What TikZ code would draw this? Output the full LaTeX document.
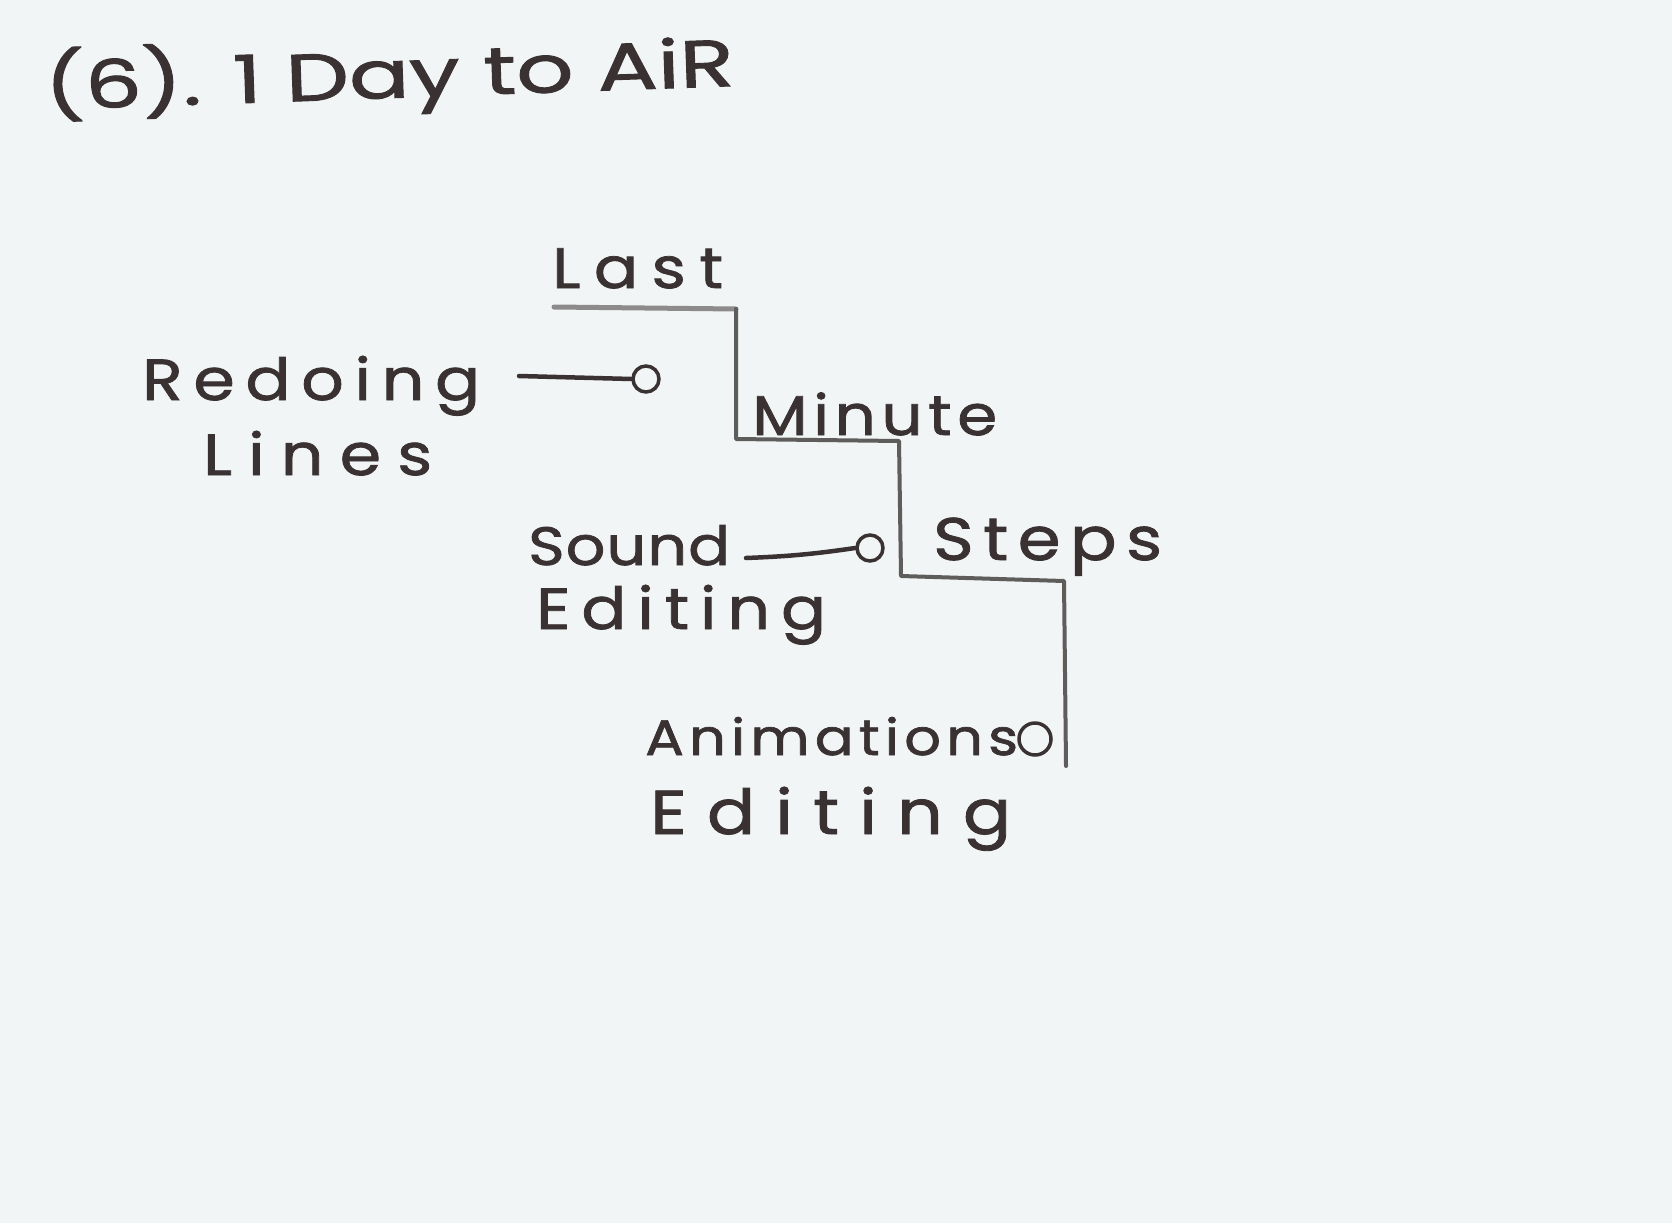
\documentclass[tikz,border=0pt]{standalone}
\usepackage{fontspec}
\usepackage{graphicx}
\setmainfont{Poppins}[FakeStretch=1.15, FakeBold=1.4]
\definecolor{paper}{RGB}{242,245,245}
\definecolor{ink}{RGB}{58,50,50}
\definecolor{pencil}{RGB}{95,92,92}
\definecolor{lightpencil}{RGB}{140,138,138}
% a title line set to a given width and height above its baseline
\newcommand\hwword[3]{\resizebox{#1pt}{#2pt}{#3}}
% even glue between letters, stretching or shrinking as needed
\newcommand\gp{\hskip 0pt plus 1fil minus 1fil\relax}
% a word at a given font size, its letters spread over a given width
\newcommand\spreadword[3]{{\fontsize{#2}{#2}\selectfont\hbox to #1pt{#3}}}
\tikzset{
  word/.style={inner sep=0pt, anchor=base west, text=ink},
  stair/.style={draw=pencil, line width=4pt, line join=round, line cap=round},
  stub/.style={draw=ink, line width=4.5pt, line cap=round},
  knob/.style={circle, draw=ink, line width=3.5pt, inner sep=0pt, minimum size=#1pt},
}
\begin{document}
\begin{tikzpicture}[x=1pt,y=-1pt]
\useasboundingbox[fill=paper] (0,0) rectangle (1672,1223);

% heading
\node[word, rotate=2, font=\fontsize{60}{60}\selectfont] (title) at (45,110)
  {\hwword{690}{62}{(6). 1 Day to AiR}};

% the three steps
\node[word] (last)   at (552,288) {\spreadword{171}{57}{L\gp a\gp s\gp t}};
\node[word] (minute) at (752,435) {\spreadword{245}{56}{M\gp i\gp n\gp u\gp t\gp e}};
\node[word] (steps)  at (933,560) {\spreadword{229}{60}{S\gp t\gp e\gp p\gp s}};

% tasks hanging off the steps
\node[word] (redoing) at (142,400) {\spreadword{338}{58}{R\gp e\gp d\gp o\gp i\gp n\gp g}};
\node[word] (lines)   at (203,475) {\spreadword{229}{58}{L\gp i\gp n\gp e\gp s}};
\node[word] (sound)   at (528,565) {\spreadword{202}{54}{S\gp o\gp u\gp n\gp d}};
\node[word] (edit1)   at (536,629) {\spreadword{290}{58}{E\gp d\gp i\gp t\gp i\gp n\gp g}};
\node[word] (anim)    at (645,755) {\spreadword{373}{50}{A\gp n\gp i\gp m\gp a\gp t\gp i\gp o\gp n\gp s}};
\node[word] (edit2)   at (650,834) {\spreadword{361}{62}{E\gp d\gp i\gp t\gp i\gp n\gp g}};

% staircase
\coordinate (s0) at (554,307);
\coordinate (s1) at (736,309);
\coordinate (s2) at (736,439);
\coordinate (s3) at (899,441);
\coordinate (s4) at (901,576);
\coordinate (s5) at (1064,581);
\coordinate (s6) at (1066,766);
\draw[draw=lightpencil, line width=5pt, line cap=round] (s0) -- (s1);
\draw[stair] (s1) -- (s2) -- (s3) -- (s4) -- (s5) -- (s6);

% connectors with their end circles
\node[knob=26] (k1) at (646,379) {};
\coordinate (c1) at (519,376);
\draw[stub] (c1) -- (k1.west);

\node[knob=26] (k2) at (870,548) {};
\coordinate (c2) at (746,558);
\draw[stub] (c2) to[bend right=3] (k2.west);

\node[knob=32] (k3) at (1035,739) {};
\end{tikzpicture}
\end{document}
